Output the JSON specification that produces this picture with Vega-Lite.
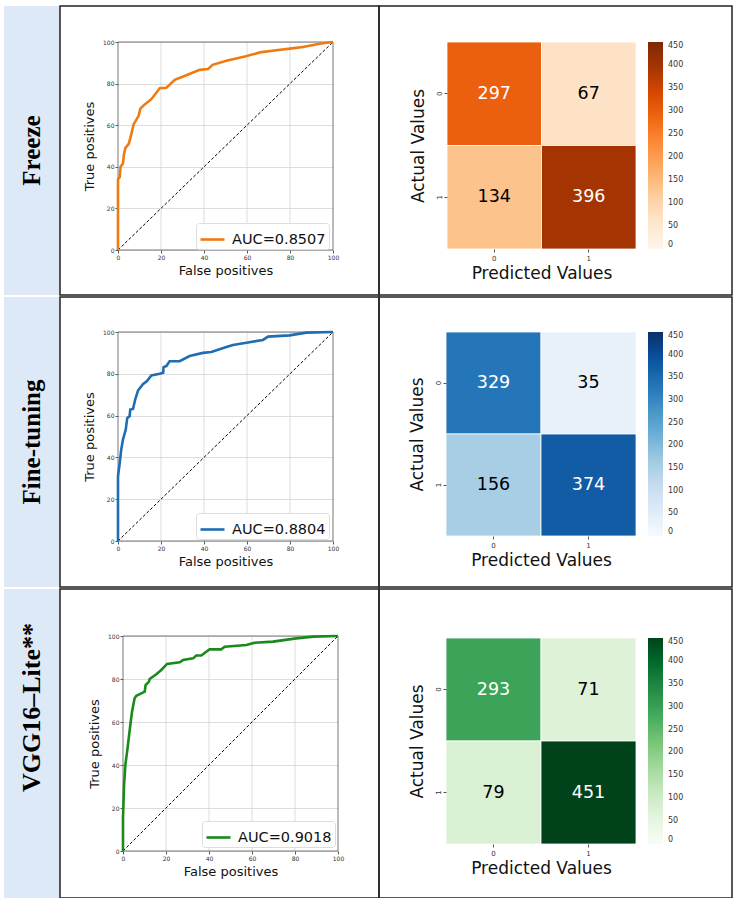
{
"$schema":"https://vega.github.io/schema/vega-lite/v6.json",
"background":"white",
"padding":{"left":4,"top":5,"right":0,"bottom":0},
"spacing":0,
"datasets":{
"grid":[{"fpr":20,"tpr":0},{"fpr":20,"tpr":100},{"fpr":40,"tpr":0},{"fpr":40,"tpr":100},{"fpr":60,"tpr":0},{"fpr":60,"tpr":100},{"fpr":80,"tpr":0},{"fpr":80,"tpr":100}],
"frame":[{"fpr":0,"fpr2":100,"tpr":0,"tpr2":100}],
"chance":[{"fpr":0,"tpr":0},{"fpr":100,"tpr":100}],
"roc0":[{"fpr":0,"tpr":0},{"fpr":0,"tpr":34},{"fpr":0.8,"tpr":35},{"fpr":1.2,"tpr":40},{"fpr":2.3,"tpr":41.6},{"fpr":2.8,"tpr":46},{"fpr":3.4,"tpr":49},{"fpr":5,"tpr":51},{"fpr":6.2,"tpr":55.7},{"fpr":7.3,"tpr":60.5},{"fpr":9.6,"tpr":64.5},{"fpr":10.4,"tpr":68},{"fpr":12.4,"tpr":70},{"fpr":15.5,"tpr":72.5},{"fpr":19.4,"tpr":77.8},{"fpr":22.5,"tpr":78},{"fpr":26.4,"tpr":81.8},{"fpr":31.8,"tpr":84},{"fpr":38,"tpr":86.6},{"fpr":41.9,"tpr":87},{"fpr":44,"tpr":89},{"fpr":50.4,"tpr":91},{"fpr":59,"tpr":93},{"fpr":66,"tpr":95},{"fpr":73.6,"tpr":96},{"fpr":80,"tpr":96.8},{"fpr":86,"tpr":97.6},{"fpr":93.8,"tpr":99.2},{"fpr":100,"tpr":100}],
"roc1":[{"fpr":0,"tpr":0},{"fpr":0,"tpr":30.9},{"fpr":0.8,"tpr":37.3},{"fpr":1.5,"tpr":43.7},{"fpr":2.3,"tpr":48.5},{"fpr":3.6,"tpr":53.3},{"fpr":4.3,"tpr":58.9},{"fpr":5.4,"tpr":59.7},{"fpr":5.7,"tpr":62.9},{"fpr":7,"tpr":63.2},{"fpr":8,"tpr":67.7},{"fpr":9.3,"tpr":72},{"fpr":11.6,"tpr":75},{"fpr":13.5,"tpr":76.5},{"fpr":15.5,"tpr":79.2},{"fpr":19.4,"tpr":80},{"fpr":21,"tpr":80.5},{"fpr":21.2,"tpr":83.2},{"fpr":22.5,"tpr":83.7},{"fpr":24,"tpr":86},{"fpr":28.7,"tpr":86},{"fpr":33.3,"tpr":88.5},{"fpr":39.5,"tpr":90},{"fpr":43.4,"tpr":90.4},{"fpr":50.4,"tpr":92.8},{"fpr":53.5,"tpr":93.8},{"fpr":59.7,"tpr":94.9},{"fpr":67.4,"tpr":96.2},{"fpr":69.8,"tpr":97.8},{"fpr":79.8,"tpr":98.4},{"fpr":87.6,"tpr":99.7},{"fpr":100,"tpr":100}],
"roc2":[{"fpr":0,"tpr":0},{"fpr":0,"tpr":15.2},{"fpr":0.5,"tpr":30.7},{"fpr":1.1,"tpr":40},{"fpr":2.3,"tpr":49.3},{"fpr":3.4,"tpr":58.6},{"fpr":4.2,"tpr":64.8},{"fpr":5.4,"tpr":71},{"fpr":6.2,"tpr":72.2},{"fpr":8.5,"tpr":73.3},{"fpr":10.1,"tpr":74.1},{"fpr":10.5,"tpr":77.2},{"fpr":12.1,"tpr":78.8},{"fpr":12.4,"tpr":80},{"fpr":15.5,"tpr":82.2},{"fpr":17.8,"tpr":84.2},{"fpr":20.5,"tpr":87},{"fpr":26.4,"tpr":87.8},{"fpr":27.9,"tpr":88.8},{"fpr":32.6,"tpr":89.6},{"fpr":34.1,"tpr":90.9},{"fpr":36.4,"tpr":90.9},{"fpr":40.3,"tpr":93.8},{"fpr":45.7,"tpr":93.8},{"fpr":47.3,"tpr":95},{"fpr":57.4,"tpr":95.8},{"fpr":61.2,"tpr":96.9},{"fpr":69.8,"tpr":97.4},{"fpr":80.6,"tpr":98.9},{"fpr":88.4,"tpr":99.7},{"fpr":100,"tpr":100}],
"cm0":[{"p":"0","a":"0","n":297},{"p":"1","a":"0","n":67},{"p":"0","a":"1","n":134},{"p":"1","a":"1","n":396}],
"cm1":[{"p":"0","a":"0","n":329},{"p":"1","a":"0","n":35},{"p":"0","a":"1","n":156},{"p":"1","a":"1","n":374}],
"cm2":[{"p":"0","a":"0","n":293},{"p":"1","a":"0","n":71},{"p":"0","a":"1","n":79},{"p":"1","a":"1","n":451}]
},
"vconcat":[
{"spacing":0,"bounds":"flush","hconcat":[
 {"width":56,"height":289,"view":{"fill":"#dde9f7"},"data":{"values":[{"name":"Freeze"}]},"mark":{"type":"text","angle":270,"font":"Liberation Serif","fontWeight":"bold","fontSize":25,"color":"black"},"encoding":{"text":{"field":"name"}}},
 {"width":319,"height":289,
  "encoding":{
   "x":{"field":"fpr","type":"quantitative","scale":{"domain":[0,100],"range":[58,273],"nice":false},"axis":{"title":"False positives","offset":-45,"grid":false,"domain":false,"values":[0,20,40,60,80,100],"labelFontSize":6,"labelFlush":false,"tickSize":3,"titleFontSize":13,"titlePadding":4,"labelPadding":1}},
   "y":{"field":"tpr","type":"quantitative","scale":{"domain":[0,100],"range":[244,36],"nice":false},"axis":{"title":"True positives","offset":-58,"grid":true,"domain":false,"values":[0,20,40,60,80,100],"labelFontSize":6,"labelFlush":false,"tickSize":3,"titleFontSize":13,"titlePadding":6,"labelPadding":1}}},
  "layer":[
   {"data":{"name":"grid"},"mark":{"type":"line","color":"#d4d4d4","strokeWidth":0.8},"encoding":{"detail":{"field":"fpr"}}},
   {"data":{"name":"frame"},"mark":{"type":"rect","fill":"transparent","stroke":"#777","strokeWidth":1},"encoding":{"x2":{"field":"fpr2"},"y2":{"field":"tpr2"}}},
   {"data":{"name":"chance"},"mark":{"type":"line","color":"black","strokeWidth":1,"strokeDash":[3,2]}},
   {"data":{"name":"roc0"},"mark":{"type":"line","strokeWidth":2.6},"encoding":{
    "order":{"value":null},
    "color":{"datum":"AUC=0.8507","scale":{"range":["#f07a12"]},"legend":{"orient":"none","legendX":136,"legendY":217,"title":null,"symbolType":"stroke","symbolSize":576,"symbolStrokeWidth":2.6,"labelFontSize":14.5,"labelColor":"#111","padding":3,"strokeColor":"#ddd","fillColor":"white","cornerRadius":3,"labelOffset":6}}}}
  ]},
 {"width":353,"height":289,"data":{"name":"cm0"},
  "encoding":{"x":{"field":"p","type":"ordinal","scale":{"range":[68,257],"paddingInner":0,"paddingOuter":0},"axis":{"title":"Predicted Values","offset":-46,"labelAngle":0,"domain":false,"tickSize":3,"labelFontSize":7,"titleFontSize":17,"titlePadding":4}},
   "y":{"field":"a","type":"ordinal","scale":{"range":[36,243],"paddingInner":0,"paddingOuter":0},"axis":{"title":"Actual Values","offset":-68,"labelAngle":-90,"domain":false,"tickSize":3,"labelFontSize":7,"titleFontSize":17,"titlePadding":8}}},
  "layer":[
   {"mark":{"type":"rect","stroke":"white","strokeWidth":0.8},"encoding":{"color":{"field":"n","type":"quantitative","scale":{"domain":[0,450],"range":["#fff5eb","#fee6ce","#fdd0a2","#fdae6b","#fd8d3c","#f16913","#d94801","#a63603","#7f2704"]},"legend":{"orient":"none","legendX":269,"legendY":36,"direction":"vertical","gradientLength":207,"gradientThickness":15,"title":null,"values":[0,50,100,150,200,250,300,350,400,450],"labelFontSize":8,"labelColor":"#333","padding":0,"labelOffset":5}}}},
   {"mark":{"type":"text","fontSize":17.5},"encoding":{"text":{"field":"n"},"color":{"condition":{"test":"datum.n > 250","value":"white"},"value":"black"}}}
  ]}
]},
{"spacing":0,"bounds":"flush","hconcat":[
 {"width":56,"height":290,"view":{"fill":"#dde9f7"},"data":{"values":[{"name":"Fine-tuning"}]},"mark":{"type":"text","angle":270,"font":"Liberation Serif","fontWeight":"bold","fontSize":25,"color":"black"},"encoding":{"text":{"field":"name"}}},
 {"width":319,"height":290,
  "encoding":{
   "x":{"field":"fpr","type":"quantitative","scale":{"domain":[0,100],"range":[58,273],"nice":false},"axis":{"title":"False positives","offset":-46,"grid":false,"domain":false,"values":[0,20,40,60,80,100],"labelFontSize":6,"labelFlush":false,"tickSize":3,"titleFontSize":13,"titlePadding":4,"labelPadding":1}},
   "y":{"field":"tpr","type":"quantitative","scale":{"domain":[0,100],"range":[244,35],"nice":false},"axis":{"title":"True positives","offset":-58,"grid":true,"domain":false,"values":[0,20,40,60,80,100],"labelFontSize":6,"labelFlush":false,"tickSize":3,"titleFontSize":13,"titlePadding":6,"labelPadding":1}}},
  "layer":[
   {"data":{"name":"grid"},"mark":{"type":"line","color":"#d4d4d4","strokeWidth":0.8},"encoding":{"detail":{"field":"fpr"}}},
   {"data":{"name":"frame"},"mark":{"type":"rect","fill":"transparent","stroke":"#777","strokeWidth":1},"encoding":{"x2":{"field":"fpr2"},"y2":{"field":"tpr2"}}},
   {"data":{"name":"chance"},"mark":{"type":"line","color":"black","strokeWidth":1,"strokeDash":[3,2]}},
   {"data":{"name":"roc1"},"mark":{"type":"line","strokeWidth":2.6},"encoding":{
    "order":{"value":null},
    "color":{"datum":"AUC=0.8804","scale":{"range":["#1f6db3"]},"legend":{"orient":"none","legendX":136,"legendY":216,"title":null,"symbolType":"stroke","symbolSize":576,"symbolStrokeWidth":2.6,"labelFontSize":14.5,"labelColor":"#111","padding":3,"strokeColor":"#ddd","fillColor":"white","cornerRadius":3,"labelOffset":6}}}}
  ]},
 {"width":353,"height":290,"data":{"name":"cm1"},
  "encoding":{"x":{"field":"p","type":"ordinal","scale":{"range":[67,257],"paddingInner":0,"paddingOuter":0},"axis":{"title":"Predicted Values","offset":-51,"labelAngle":0,"domain":false,"tickSize":3,"labelFontSize":7,"titleFontSize":17,"titlePadding":4}},
   "y":{"field":"a","type":"ordinal","scale":{"range":[35,239],"paddingInner":0,"paddingOuter":0},"axis":{"title":"Actual Values","offset":-67,"labelAngle":-90,"domain":false,"tickSize":3,"labelFontSize":7,"titleFontSize":17,"titlePadding":8}}},
  "layer":[
   {"mark":{"type":"rect","stroke":"white","strokeWidth":0.8},"encoding":{"color":{"field":"n","type":"quantitative","scale":{"domain":[0,450],"range":["#f7fbff","#deebf7","#c6dbef","#9ecae1","#6baed6","#4292c6","#2171b5","#08519c","#08306b"]},"legend":{"orient":"none","legendX":269,"legendY":35,"direction":"vertical","gradientLength":204,"gradientThickness":15,"title":null,"values":[0,50,100,150,200,250,300,350,400,450],"labelFontSize":8,"labelColor":"#333","padding":0,"labelOffset":5}}}},
   {"mark":{"type":"text","fontSize":17.5},"encoding":{"text":{"field":"n"},"color":{"condition":{"test":"datum.n > 250","value":"white"},"value":"black"}}}
  ]}
]},
{"spacing":0,"bounds":"flush","hconcat":[
 {"width":56,"height":309,"view":{"fill":"#dde9f7"},"data":{"values":[{"name":"VGG16–Lite**"}]},"mark":{"type":"text","angle":270,"font":"Liberation Serif","fontWeight":"bold","fontSize":26,"color":"black","dx":36},"encoding":{"text":{"field":"name"}}},
 {"width":319,"height":309,
  "encoding":{
   "x":{"field":"fpr","type":"quantitative","scale":{"domain":[0,100],"range":[63,278],"nice":false},"axis":{"title":"False positives","offset":-47,"grid":false,"domain":false,"values":[0,20,40,60,80,100],"labelFontSize":6,"labelFlush":false,"tickSize":3,"titleFontSize":13,"titlePadding":4,"labelPadding":1}},
   "y":{"field":"tpr","type":"quantitative","scale":{"domain":[0,100],"range":[262,47],"nice":false},"axis":{"title":"True positives","offset":-63,"grid":true,"domain":false,"values":[0,20,40,60,80,100],"labelFontSize":6,"labelFlush":false,"tickSize":3,"titleFontSize":13,"titlePadding":6,"labelPadding":1}}},
  "layer":[
   {"data":{"name":"grid"},"mark":{"type":"line","color":"#d4d4d4","strokeWidth":0.8},"encoding":{"detail":{"field":"fpr"}}},
   {"data":{"name":"frame"},"mark":{"type":"rect","fill":"transparent","stroke":"#777","strokeWidth":1},"encoding":{"x2":{"field":"fpr2"},"y2":{"field":"tpr2"}}},
   {"data":{"name":"chance"},"mark":{"type":"line","color":"black","strokeWidth":1,"strokeDash":[3,2]}},
   {"data":{"name":"roc2"},"mark":{"type":"line","strokeWidth":2.6},"encoding":{
    "order":{"value":null},
    "color":{"datum":"AUC=0.9018","scale":{"range":["#1a8a1a"]},"legend":{"orient":"none","legendX":142,"legendY":232,"title":null,"symbolType":"stroke","symbolSize":576,"symbolStrokeWidth":2.6,"labelFontSize":14.5,"labelColor":"#111","padding":3,"strokeColor":"#ddd","fillColor":"white","cornerRadius":3,"labelOffset":6}}}}
  ]},
 {"width":353,"height":309,"data":{"name":"cm2"},
  "encoding":{"x":{"field":"p","type":"ordinal","scale":{"range":[67,257],"paddingInner":0,"paddingOuter":0},"axis":{"title":"Predicted Values","offset":-54,"labelAngle":0,"domain":false,"tickSize":3,"labelFontSize":7,"titleFontSize":17,"titlePadding":4}},
   "y":{"field":"a","type":"ordinal","scale":{"range":[49,255],"paddingInner":0,"paddingOuter":0},"axis":{"title":"Actual Values","offset":-67,"labelAngle":-90,"domain":false,"tickSize":3,"labelFontSize":7,"titleFontSize":17,"titlePadding":8}}},
  "layer":[
   {"mark":{"type":"rect","stroke":"white","strokeWidth":0.8},"encoding":{"color":{"field":"n","type":"quantitative","scale":{"domain":[0,450],"range":["#f7fcf5","#e5f5e0","#c7e9c0","#a1d99b","#74c476","#41ab5d","#238b45","#006d2c","#00441b"]},"legend":{"orient":"none","legendX":269,"legendY":49,"direction":"vertical","gradientLength":206,"gradientThickness":15,"title":null,"values":[0,50,100,150,200,250,300,350,400,450],"labelFontSize":8,"labelColor":"#333","padding":0,"labelOffset":5}}}},
   {"mark":{"type":"text","fontSize":17.5},"encoding":{"text":{"field":"n"},"color":{"condition":{"test":"datum.n > 250","value":"white"},"value":"black"}}}
  ]}
]}
],
"config":{
 "font":"DejaVu Sans",
 "view":{"stroke":"#222","strokeWidth":1.5},
 "axis":{"labelFont":"DejaVu Sans","titleFont":"DejaVu Sans","titleFontWeight":"normal","titleColor":"#111","labelColor":"#333","tickColor":"#555","gridColor":"#d4d4d4","gridWidth":0.8},
 "legend":{"labelFont":"DejaVu Sans"}
}
}
